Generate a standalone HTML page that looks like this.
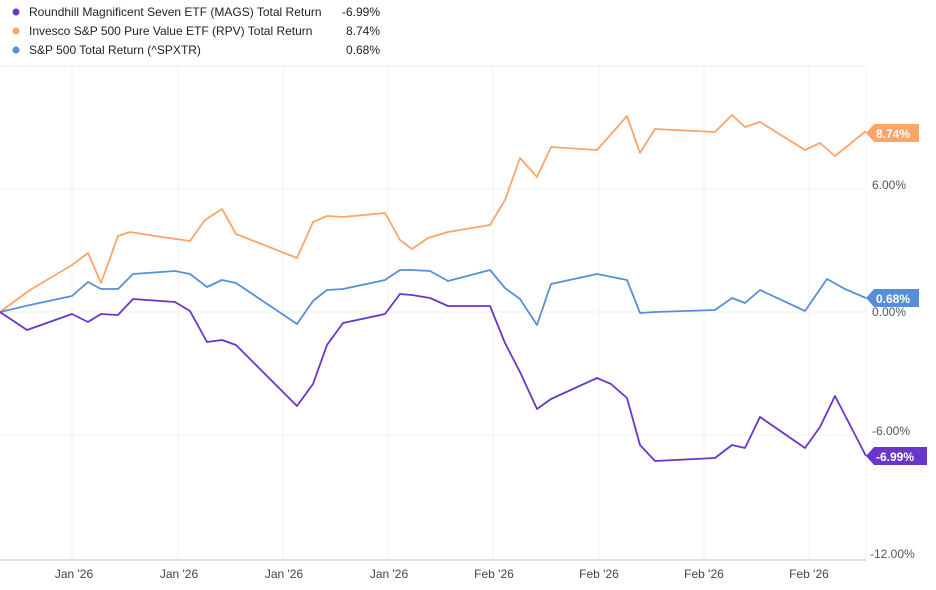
<!DOCTYPE html>
<html><head><meta charset="utf-8"><style>
body{margin:0;background:#fff;width:936px;height:585px;overflow:hidden;font-family:"Liberation Sans",sans-serif}
</style></head><body>
<svg width="936" height="585" xmlns="http://www.w3.org/2000/svg" font-family="Liberation Sans, sans-serif">
<line x1="0" y1="66" x2="866" y2="66" stroke="#e8e8e8"/>
<g stroke="#f0f0f0" stroke-width="1">
<line x1="72" y1="66" x2="72" y2="560"/><line x1="178" y1="66" x2="178" y2="560"/><line x1="283" y1="66" x2="283" y2="560"/><line x1="388" y1="66" x2="388" y2="560"/><line x1="493" y1="66" x2="493" y2="560"/><line x1="599" y1="66" x2="599" y2="560"/><line x1="704" y1="66" x2="704" y2="560"/><line x1="809" y1="66" x2="809" y2="560"/><line x1="866" y1="66" x2="866" y2="560"/>
<line x1="0" y1="189" x2="866" y2="189"/><line x1="0" y1="312" x2="866" y2="312"/><line x1="0" y1="435" x2="866" y2="435"/>
</g>
<line x1="0" y1="560" x2="866" y2="560" stroke="#e0e0e0" stroke-width="2"/>
<g font-size="12" fill="#555">
<text x="872" y="189">6.00%</text><text x="872" y="316">0.00%</text><text x="872" y="435">-6.00%</text><text x="870" y="558">-12.00%</text>
</g>
<g font-size="12" fill="#444" text-anchor="middle">
<text x="74" y="578">Jan '26</text><text x="179" y="578">Jan '26</text><text x="284" y="578">Jan '26</text><text x="389" y="578">Jan '26</text><text x="494" y="578">Feb '26</text><text x="599" y="578">Feb '26</text><text x="704" y="578">Feb '26</text><text x="809" y="578">Feb '26</text>
</g>
<g fill="none" stroke-width="1.8" stroke-linejoin="round">
<polyline stroke="#fda46a" points="0,312 30,290 72,265 88,253 101,283 118,236 130,232 155,236 190,241 205,220 222,209 236,234 297,258 313,222 327,216 343,217 385,213 400,240 412,249 428,238 448,232 490,225 505,200 520,158 537,177 551,147 597,150 627,116 640,153 655,129 715,132 732,115 745,127 760,122 805,150 820,143 835,156 866,131"/>
<polyline stroke="#588ed9" points="0,312 30,305 72,296 88,282 101,289 118,289 133,274 175,271 190,274 207,287 222,280 236,283 297,324 313,301 327,290 343,289 385,280 400,270 412,270 430,271 448,281 490,270 505,288 520,299 537,325 551,284 597,274 627,280 640,313 655,312 715,310 732,298 745,303 760,290 805,311 827,279 845,289 866,298"/>
<polyline stroke="#6a35c9" points="0,312 27,330 72,314 88,322 101,314 118,315 133,299 175,302 190,311 207,342 222,340 236,345 297,406 313,384 327,345 343,323 385,314 400,294 412,295 430,298 448,306 490,306 505,343 520,372 537,409 551,399 597,378 611,384 627,398 640,445 655,461 715,458 732,445 745,448 760,417 805,448 820,427 835,396 866,456"/>
</g>
<g font-size="12" font-weight="bold" fill="#fff">
<path d="M866,133 L874,124 L919,124 L919,142 L874,142 Z" fill="#fda46a"/><text x="876" y="138">8.74%</text>
<path d="M866,298 L874,289 L919,289 L919,307 L874,307 Z" fill="#588ed9"/><text x="876" y="303">0.68%</text>
<path d="M866,456 L874,447 L927,447 L927,465 L874,465 Z" fill="#6a35c9"/><text x="876" y="461">-6.99%</text>
</g>
<g font-size="12" fill="#222">
<circle cx="16" cy="12" r="3.5" fill="#6a35c9"/><text x="29" y="16">Roundhill Magnificent Seven ETF (MAGS) Total Return</text><text x="380" y="16" text-anchor="end">-6.99%</text>
<circle cx="16" cy="31" r="3.5" fill="#fda46a"/><text x="29" y="35">Invesco S&amp;P 500 Pure Value ETF (RPV) Total Return</text><text x="380" y="35" text-anchor="end">8.74%</text>
<circle cx="16" cy="50" r="3.5" fill="#588ed9"/><text x="29" y="54">S&amp;P 500 Total Return (^SPXTR)</text><text x="380" y="54" text-anchor="end">0.68%</text>
</g>
</svg>
</body></html>
